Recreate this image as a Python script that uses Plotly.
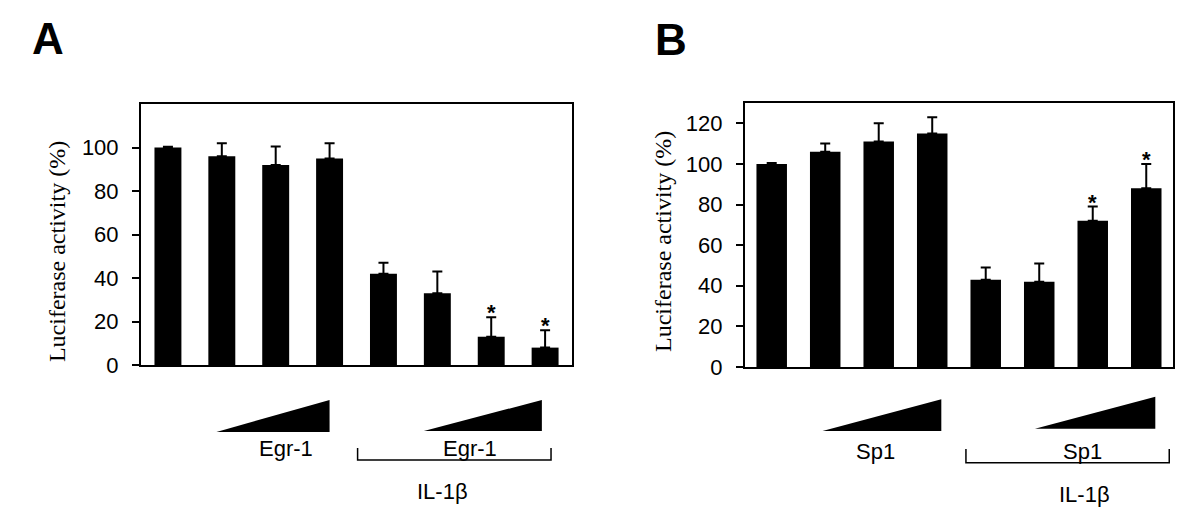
import plotly.graph_objects as go

# ---------------- data ----------------
conditions = list(range(8))
a_values = [100, 96, 92, 95, 42, 33, 13, 8]
a_errors = [0.4, 6, 8.5, 7, 5, 10, 9, 8]
a_signif = [0, 0, 0, 0, 0, 0, 1, 1]

b_values = [100, 106, 111, 115, 43, 42, 72, 88]
b_errors = [0.4, 4, 9, 8, 6, 9, 7, 12]
b_signif = [0, 0, 0, 0, 0, 0, 1, 1]

a_ticks = [0, 20, 40, 60, 80, 100]
b_ticks = [0, 20, 40, 60, 80, 100, 120]

SANS = "Liberation Sans, Arial, sans-serif"
SERIF = "Liberation Serif, Times New Roman, serif"

fig = go.Figure()


def add_panel(values, errors, width, xa, ya):
    fig.add_trace(go.Bar(
        x=conditions, y=values, width=width,
        marker=dict(color="black", line=dict(width=0)),
        error_y=dict(type="data", array=errors, arrayminus=[0] * len(errors),
                     symmetric=False, color="black", thickness=2, width=5),
        xaxis=xa, yaxis=ya, showlegend=False,
    ))


add_panel(a_values, a_errors, 0.5, "x", "y")
add_panel(b_values, b_errors, 0.57, "x2", "y2")

axis_common = dict(showline=True, linecolor="black", linewidth=2, mirror=True,
                   showgrid=False, zeroline=False, automargin=False)

fig.update_layout(
    width=1200, height=531,
    margin=dict(l=0, r=0, t=0, b=0, autoexpand=False),
    paper_bgcolor="white", plot_bgcolor="white",
    xaxis=dict(domain=[0.1175, 0.4767], range=[-0.5, 7.5], showticklabels=False,
               ticks="", **axis_common),
    yaxis=dict(domain=[0.3126, 0.8041], range=[0, 120], tickvals=a_ticks,
               ticks="outside", ticklen=7, tickwidth=2, tickcolor="black",
               ticklabelstandoff=9,
               tickfont=dict(family=SANS, size=22, color="black"), **axis_common),
    xaxis2=dict(domain=[0.6208, 0.9775], range=[-0.5, 7.5], showticklabels=False,
                ticks="", anchor="y2", **axis_common),
    yaxis2=dict(domain=[0.3089, 0.806], range=[0, 130], tickvals=b_ticks,
                anchor="x2",
                ticks="outside", ticklen=7, tickwidth=2, tickcolor="black",
                ticklabelstandoff=9,
                tickfont=dict(family=SANS, size=22, color="black"), **axis_common),
)

annotations = []
shapes = []

# significance stars above the error bars
for xa, ya, vals, errs, sig in (("x", "y", a_values, a_errors, a_signif),
                                ("x2", "y2", b_values, b_errors, b_signif)):
    for i, (v, e, s) in enumerate(zip(vals, errs, sig)):
        if s:
            annotations.append(dict(x=conditions[i], y=v + e, xref=xa, yref=ya,
                                    text="<b>*</b>", showarrow=False,
                                    xanchor="center", yanchor="bottom", yshift=-10,
                                    font=dict(family=SANS, size=22, color="black")))

# panel letters
annotations.append(dict(x=0.0396, y=0.9266, xref="paper", yref="paper", text="<b>A</b>",
                        xanchor="center", yanchor="middle",
                        showarrow=False, font=dict(family=SANS, size=44, color="black")))
annotations.append(dict(x=0.559, y=0.9256, xref="paper", yref="paper", text="<b>B</b>",
                        xanchor="center", yanchor="middle",
                        showarrow=False, font=dict(family=SANS, size=44, color="black")))

# y-axis titles
for xp, yp in ((0.047, 0.526), (0.5525, 0.5443)):
    annotations.append(dict(x=xp, y=yp, xref="paper", yref="paper",
                            text="Luciferase activity (%)", textangle=-90,
                            xanchor="center", yanchor="middle",
                            showarrow=False,
                            font=dict(family=SERIF, size=24, color="black")))


def wedge(xref, yref, x0, x1, yb, yt):
    shapes.append(dict(type="path", xref=xref, yref=yref,
                       path=f"M {x0} {yb} L {x1} {yb} L {x1} {yt} Z",
                       fillcolor="black", line=dict(width=0)))


def bracket(xref, yref, x0, x1, yh, yt):
    shapes.append(dict(type="path", xref=xref, yref=yref,
                       path=f"M {x0} {yt} L {x0} {yh} L {x1} {yh} L {x1} {yt}",
                       line=dict(color="black", width=1.5)))


def label(xref, yref, x, y, text):
    annotations.append(dict(x=x, y=y, xref=xref, yref=yref, text=text,
                            showarrow=False, xanchor="center", yanchor="middle",
                            font=dict(family=SANS, size=22, color="black")))


# Panel A: dose wedges, bracket and labels
wedge("x", "y domain", 0.9, 3.0, -0.2567, -0.134)
wedge("x", "y domain", 4.75, 6.94, -0.253, -0.134)
bracket("x", "y domain", 3.52, 7.11, -0.364, -0.318)
label("x", "y domain", 2.2, -0.318, "Egr-1")
label("x", "y domain", 5.6, -0.318, "Egr-1")
label("x", "y domain", 5.1, -0.483, "IL-1β")

# Panel B: dose wedges, bracket and labels
wedge("x2", "y2 domain", 0.95, 3.17, -0.2424, -0.1223)
wedge("x2", "y2 domain", 4.92, 7.17, -0.2337, -0.1125)
bracket("x2", "y2 domain", 3.63, 7.43, -0.3625, -0.3106)
label("x2", "y2 domain", 1.94, -0.32, "Sp1")
label("x2", "y2 domain", 5.81, -0.32, "Sp1")
label("x2", "y2 domain", 5.84, -0.485, "IL-1β")

fig.update_layout(annotations=annotations, shapes=shapes)

fig.write_html(
    "out.html",
    config={"displayModeBar": False},
    post_script="document.body.style.margin='0';document.body.style.overflow='hidden';",
)
